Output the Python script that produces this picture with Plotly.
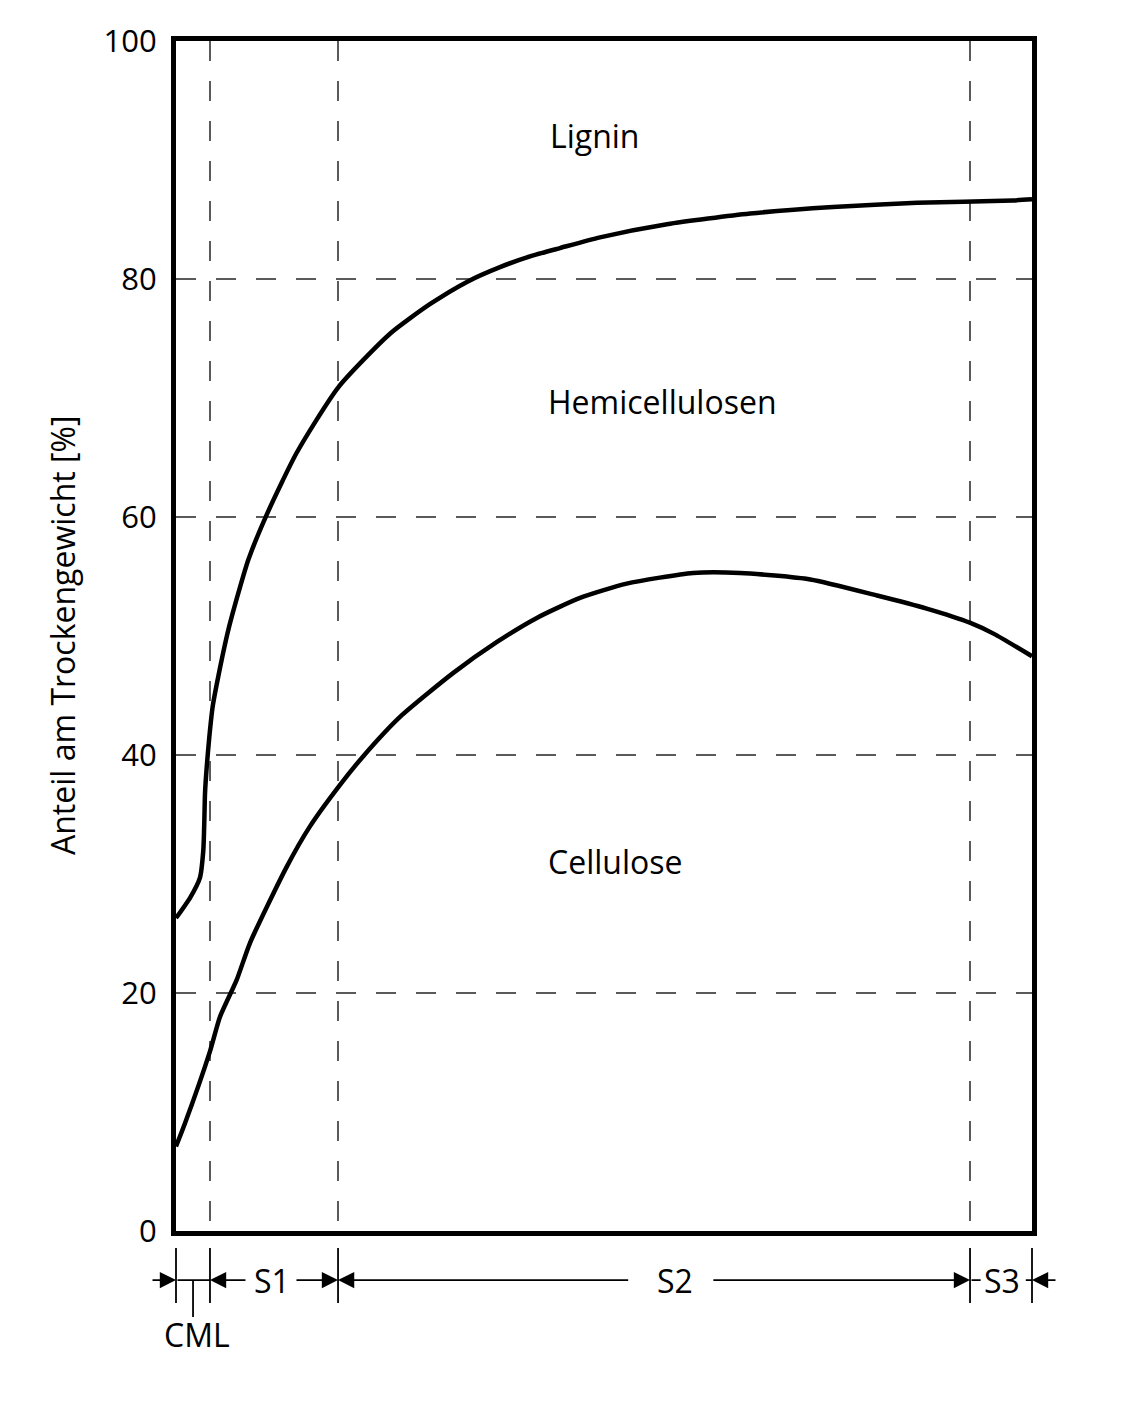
import plotly.graph_objects as go

# position across the cell wall (0 = middle lamella side, 100 = lumen side)
# upper curve = boundary Hemicellulosen / Lignin
upper_x = [0, 1.64, 2.80, 3.19, 3.31, 3.39, 3.59, 3.89, 4.29, 4.94, 6.11, 7.48, 8.45,
           10.6, 14.1, 18.96, 25.0, 29.7, 34.1, 37.85, 41.36, 44.86, 49.53, 57.36, 67.06,
           76.75, 86.57, 97.78, 100]
upper_y = [26.3, 28.0, 29.7, 32.0, 34.5, 36.8, 39.0, 41.5, 44.1, 46.6, 50.5, 54.1, 56.4,
           60.2, 65.4, 70.9, 75.4, 77.9, 79.8, 81.0, 81.9, 82.6, 83.5, 84.6, 85.5,
           86.05, 86.4, 86.6, 86.7]

# lower curve = boundary Cellulose / Hemicellulosen
lower_x = [0, 1.05, 3.97, 5.14, 7.09, 8.64, 12.93, 15.65, 18.96, 21.88, 26.17, 32.4,
           37.5, 42.1, 47.2, 52.65, 60.4, 65.9, 74.1, 81.9, 87.7, 92.8, 95.5, 100]
lower_y = [7.1, 9.05, 15.1, 18.0, 21.1, 24.2, 30.6, 34.0, 37.3, 39.9, 43.2, 46.9,
           49.5, 51.5, 53.2, 54.4, 55.3, 55.3, 54.75, 53.4, 52.3, 51.1, 50.2, 48.3]

y_ticks = [0, 20, 40, 60, 80, 100]

# wall layers
layer_bounds = [0, 3.97, 18.93, 92.76, 100]
layer_names = ["S1", "S2", "S3"]
layer_label_x = [11.2, 58.3, 96.5]
label_gaps = [(8.29, 13.9), (53.0, 62.6), (94.0, 99.1)]
cml_x = 1.99

region_labels = ["Lignin", "Hemicellulosen", "Cellulose"]
region_x = [48.9, 56.8, 51.3]
region_y = [92.1, 69.7, 31.05]

FONT = "Open Sans"
Y_DIM = -0.0412  # dimension line, paper units below the plot
ARROW = dict(arrowsize=1.8, arrowwidth=1.8, arrowcolor="black")

fig = go.Figure()

for xs, ys in [(upper_x, upper_y), (lower_x, lower_y)]:
    fig.add_trace(go.Scatter(x=xs, y=ys, mode="lines",
                             line=dict(color="black", width=4.5, shape="spline", smoothing=0.6),
                             showlegend=False, hoverinfo="skip"))

for txt, x, y in zip(region_labels, region_x, region_y):
    fig.add_annotation(x=x, y=y, text=txt, showarrow=False, xanchor="center", yanchor="middle",
                       font=dict(family=FONT, size=32, color="black"))


def dim_line(head, tail, head_style):
    fig.add_annotation(x=head, y=Y_DIM, xref="x", yref="paper",
                       axref="x", ax=tail, ayref="pixel", ay=0,
                       text="", showarrow=True, arrowhead=head_style, **ARROW)


# outer arrows
fig.add_annotation(x=layer_bounds[0], y=Y_DIM, xref="x", yref="paper", ax=-25, ay=0,
                   text="", showarrow=True, arrowhead=2, **ARROW)
fig.add_annotation(x=layer_bounds[-1], y=Y_DIM, xref="x", yref="paper", ax=25, ay=0,
                   text="", showarrow=True, arrowhead=2, **ARROW)

# CML: plain line
dim_line(layer_bounds[1], layer_bounds[0], 0)
# S1, S2 arrows
for i in range(2):
    lo, hi = layer_bounds[i + 1], layer_bounds[i + 2]
    g0, g1 = label_gaps[i]
    dim_line(lo, g0, 2)
    dim_line(hi, g1, 2)
# S3 plain segments
dim_line(label_gaps[2][0], layer_bounds[3], 0)
dim_line(layer_bounds[4], label_gaps[2][1], 0)

for name, x in zip(layer_names, layer_label_x):
    fig.add_annotation(x=x, y=Y_DIM, xref="x", yref="paper", text=name, showarrow=False,
                       xanchor="center", yanchor="middle",
                       font=dict(family=FONT, size=32, color="black"))

# boundary ticks
for b in layer_bounds:
    fig.add_shape(type="line", xref="paper", yref="paper", x0=b / 100, x1=b / 100,
                  y0=-0.0143, y1=-0.0605, line=dict(color="black", width=1.8))
fig.add_shape(type="line", xref="paper", yref="paper", x0=cml_x / 100, x1=cml_x / 100,
              y0=Y_DIM, y1=-0.0723, line=dict(color="black", width=1.8))
fig.add_annotation(x=cml_x, y=-0.0866, xref="x", yref="paper", text="CML", showarrow=False,
                   xanchor="center", yanchor="middle", xshift=4,
                   font=dict(family=FONT, size=32, color="black"))

# y title
fig.add_annotation(x=0, y=0.5, xref="paper", yref="paper", xshift=-114,
                   xanchor="center", yanchor="middle",
                   text="Anteil am Trockengewicht [%]", textangle=-90, showarrow=False,
                   font=dict(family=FONT, size=32, color="black"))

grid = dict(showgrid=True, gridcolor="#5a5a5a", gridwidth=1.5, griddash="20px,20px",
            zeroline=False, showline=True, mirror=True, linewidth=5, linecolor="black")

fig.update_xaxes(range=[0, 100], tickvals=layer_bounds[1:4], showticklabels=False,
                 ticks="", **grid)
fig.update_yaxes(range=[0, 100], tickvals=y_ticks, ticks="", ticklabelstandoff=8,
                 tickfont=dict(family=FONT, size=31, color="black"), **grid)

# the page body adds an 8px margin, so the figure is 8px smaller and shifted
fig.update_layout(
    width=1126, height=1409,
    margin=dict(l=168, r=102, t=33, b=186),
    plot_bgcolor="white", paper_bgcolor="white",
    showlegend=False,
)

fig.write_html("out.html")
